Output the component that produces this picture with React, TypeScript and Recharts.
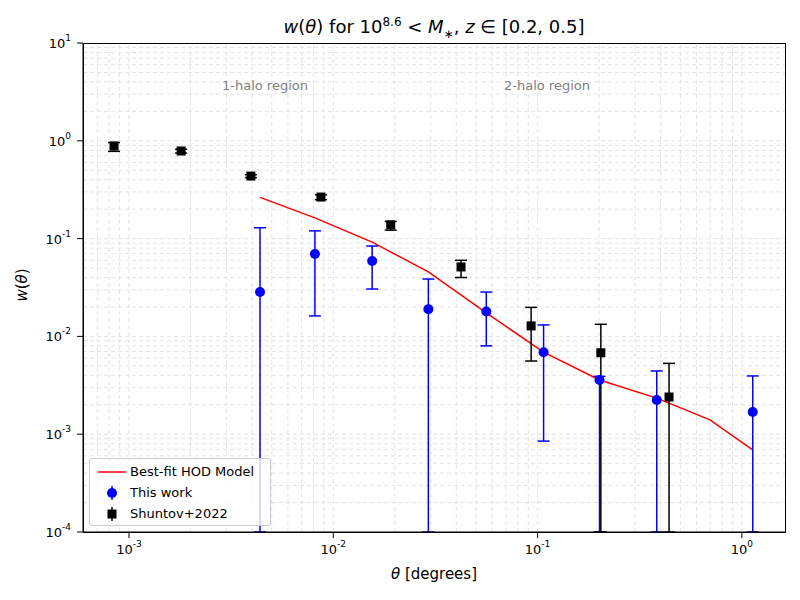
import * as React from 'react';
import { ComposedChart, Scatter, Line, XAxis, YAxis, ReferenceLine, ErrorBar } from 'recharts';

const FLOOR = 1e-4;

// This work
const workTheta = [0.00438, 0.00813, 0.0155, 0.0292, 0.0561, 0.107, 0.201, 0.383, 1.13];
const workW = [0.0284, 0.0697, 0.059, 0.019, 0.018, 0.0069, 0.00358, 0.00224, 0.00169];
const workHi = [0.129, 0.12, 0.084, 0.0386, 0.0284, 0.0131, 0.0039, 0.00443, 0.00394];
const workLo = [FLOOR, 0.0162, 0.0305, FLOOR, 0.008, 0.00085, FLOOR, FLOOR, FLOOR];

// Shuntov+2022
const shTheta = [0.000845, 0.0018, 0.00395, 0.0087, 0.0191, 0.0422, 0.093, 0.204, 0.44];
const shW = [0.885, 0.787, 0.436, 0.266, 0.138, 0.0513, 0.0128, 0.0068, 0.0024];
const shHi = [0.96, 0.82, 0.45, 0.28, 0.15, 0.06, 0.0198, 0.0133, 0.0053];
const shLo = [0.78, 0.75, 0.42, 0.25, 0.122, 0.04, 0.0056, FLOOR, FLOOR];

// Best-fit HOD model
const hodTheta = [0.00438, 0.00813, 0.0155, 0.0292, 0.0561, 0.107, 0.201, 0.383, 0.698, 1.13];
const hodW = [0.264, 0.163, 0.092, 0.0457, 0.0174, 0.0069, 0.00358, 0.00234, 0.0014, 0.00069];

const xTicks = [0.001, 0.01, 0.1, 1];
const yTicks = [1e-4, 1e-3, 1e-2, 1e-1, 1, 10];

const X_MIN = Math.pow(10, -3.225);
const X_MAX = Math.pow(10, 0.211);

const toRows = (x: number[], y: number[], hi: number[], lo: number[]) =>
  x.map((v, i) => ({ x: v, y: y[i], err: [y[i] - lo[i], hi[i] - y[i]] }));

const workData = toRows(workTheta, workW, workHi, workLo);
const shData = toRows(shTheta, shW, shHi, shLo);
const hodData = hodTheta.map((v, i) => ({ x: v, y: hodW[i] }));

const gridVals = (from: number, to: number, lo: number, hi: number) => {
  const out: number[] = [];
  for (let e = from; e <= to; e++)
    for (let m = 1; m < 10; m++) {
      const v = m * Math.pow(10, e);
      if (v > lo && v < hi) out.push(v);
    }
  return out;
};
const xGrid = gridVals(-4, 0, X_MIN, X_MAX);
const yGrid = gridVals(-4, 0, 1e-4, 10);

const PowTick = (props: any) => {
  const { x, y, payload, axis } = props;
  const exp = Math.round(Math.log10(payload.value));
  if (axis === 'x') {
    return (
      <text x={x} y={y + 14} textAnchor="middle" fontSize={13} fill="#000">
        10<tspan dy={-7} fontSize={9}>{exp}</tspan>
      </text>
    );
  }
  return (
    <text x={x - 4} y={y + 5} textAnchor="end" fontSize={13} fill="#000">
      10<tspan dy={-7} fontSize={9}>{exp}</tspan>
    </text>
  );
};

const Dot = (props: any) => <circle cx={props.cx} cy={props.cy} r={5} fill="#0000ff" />;
const Sq = (props: any) => <rect x={props.cx - 4.5} y={props.cy - 4.5} width={9} height={9} fill="#000" />;

const font = 'DejaVu Sans, sans-serif';

export default function App() {
  return (
    <div style={{ position: 'absolute', left: 0, top: 0, width: 800, height: 600, background: '#fff', fontFamily: font }}>
      <ComposedChart width={800} height={600} margin={{ top: 43, right: 15, left: 23, bottom: 28 }}>
        <XAxis
          type="number"
          dataKey="x"
          scale="log"
          domain={[X_MIN, X_MAX]}
          allowDataOverflow
          ticks={xTicks}
          tick={<PowTick axis="x" />}
          height={40}
          stroke="#000"
        />
        <YAxis
          type="number"
          dataKey="y"
          scale="log"
          domain={[1e-4, 10]}
          allowDataOverflow
          ticks={yTicks}
          tick={<PowTick axis="y" />}
          width={60}
          stroke="#000"
        />
        {xGrid.map((v) => (
          <ReferenceLine key={'gx' + v} x={v} stroke="#e3e3e3" strokeDasharray="4 3" />
        ))}
        {yGrid.map((v) => (
          <ReferenceLine key={'gy' + v} y={v} stroke="#e3e3e3" strokeDasharray="4 3" />
        ))}
        <Line data={hodData} dataKey="y" stroke="#ff0000" strokeWidth={1.5} dot={false} isAnimationActive={false} />
        <Scatter data={workData} dataKey="y" shape={<Dot />} isAnimationActive={false}>
          <ErrorBar dataKey="err" direction="y" stroke="#0000ff" strokeWidth={1.5} width={6} />
        </Scatter>
        <Scatter data={shData} dataKey="y" shape={<Sq />} isAnimationActive={false}>
          <ErrorBar dataKey="err" direction="y" stroke="#000" strokeWidth={1.5} width={6} />
        </Scatter>
      </ComposedChart>

      <div style={{ position: 'absolute', left: 83, top: 43, width: 701, height: 488, border: '1px solid #000', pointerEvents: 'none' }} />

      <div style={{ position: 'absolute', left: 0, width: 868, top: 15, textAlign: 'center', fontSize: 18 }}>
        <i>w</i>(<i>θ</i>) for 10<sup style={{ fontSize: 12 }}>8.6</sup> &lt; <i>M</i><sub style={{ fontSize: 12 }}>∗</sub>, <i>z</i> ∈ [0.2, 0.5]
      </div>
      <div style={{ position: 'absolute', left: 222, top: 78, fontSize: 13, color: '#808080' }}>1-halo region</div>
      <div style={{ position: 'absolute', left: 504, top: 78, fontSize: 13, color: '#808080' }}>2-halo region</div>
      <div style={{ position: 'absolute', left: 0, width: 868, top: 565, textAlign: 'center', fontSize: 15 }}>
        <i>θ</i> [degrees]
      </div>
      <div style={{ position: 'absolute', left: 2, top: 276, width: 40, fontSize: 15, transform: 'rotate(-90deg)', textAlign: 'center' }}>
        <i>w</i>(<i>θ</i>)
      </div>

      <div style={{ position: 'absolute', left: 89, top: 458, width: 180, height: 66, border: '1px solid #ccc', borderRadius: 3, background: 'rgba(255,255,255,0.8)', fontSize: 13 }}>
        <div style={{ display: 'flex', alignItems: 'center', height: 21, marginTop: 2 }}>
          <svg width={40} height={14}><line x1={8} x2={36} y1={7} y2={7} stroke="#f00" strokeWidth={1.5} /></svg>
          <span>Best-fit HOD Model</span>
        </div>
        <div style={{ display: 'flex', alignItems: 'center', height: 21 }}>
          <svg width={40} height={16}>
            <line x1={22} x2={22} y1={1} y2={15} stroke="#00f" strokeWidth={1.5} />
            <circle cx={22} cy={8} r={5} fill="#00f" />
          </svg>
          <span>This work</span>
        </div>
        <div style={{ display: 'flex', alignItems: 'center', height: 21 }}>
          <svg width={40} height={16}>
            <line x1={22} x2={22} y1={1} y2={15} stroke="#000" strokeWidth={1.5} />
            <rect x={17.5} y={3.5} width={9} height={9} fill="#000" />
          </svg>
          <span>Shuntov+2022</span>
        </div>
      </div>
    </div>
  );
}
